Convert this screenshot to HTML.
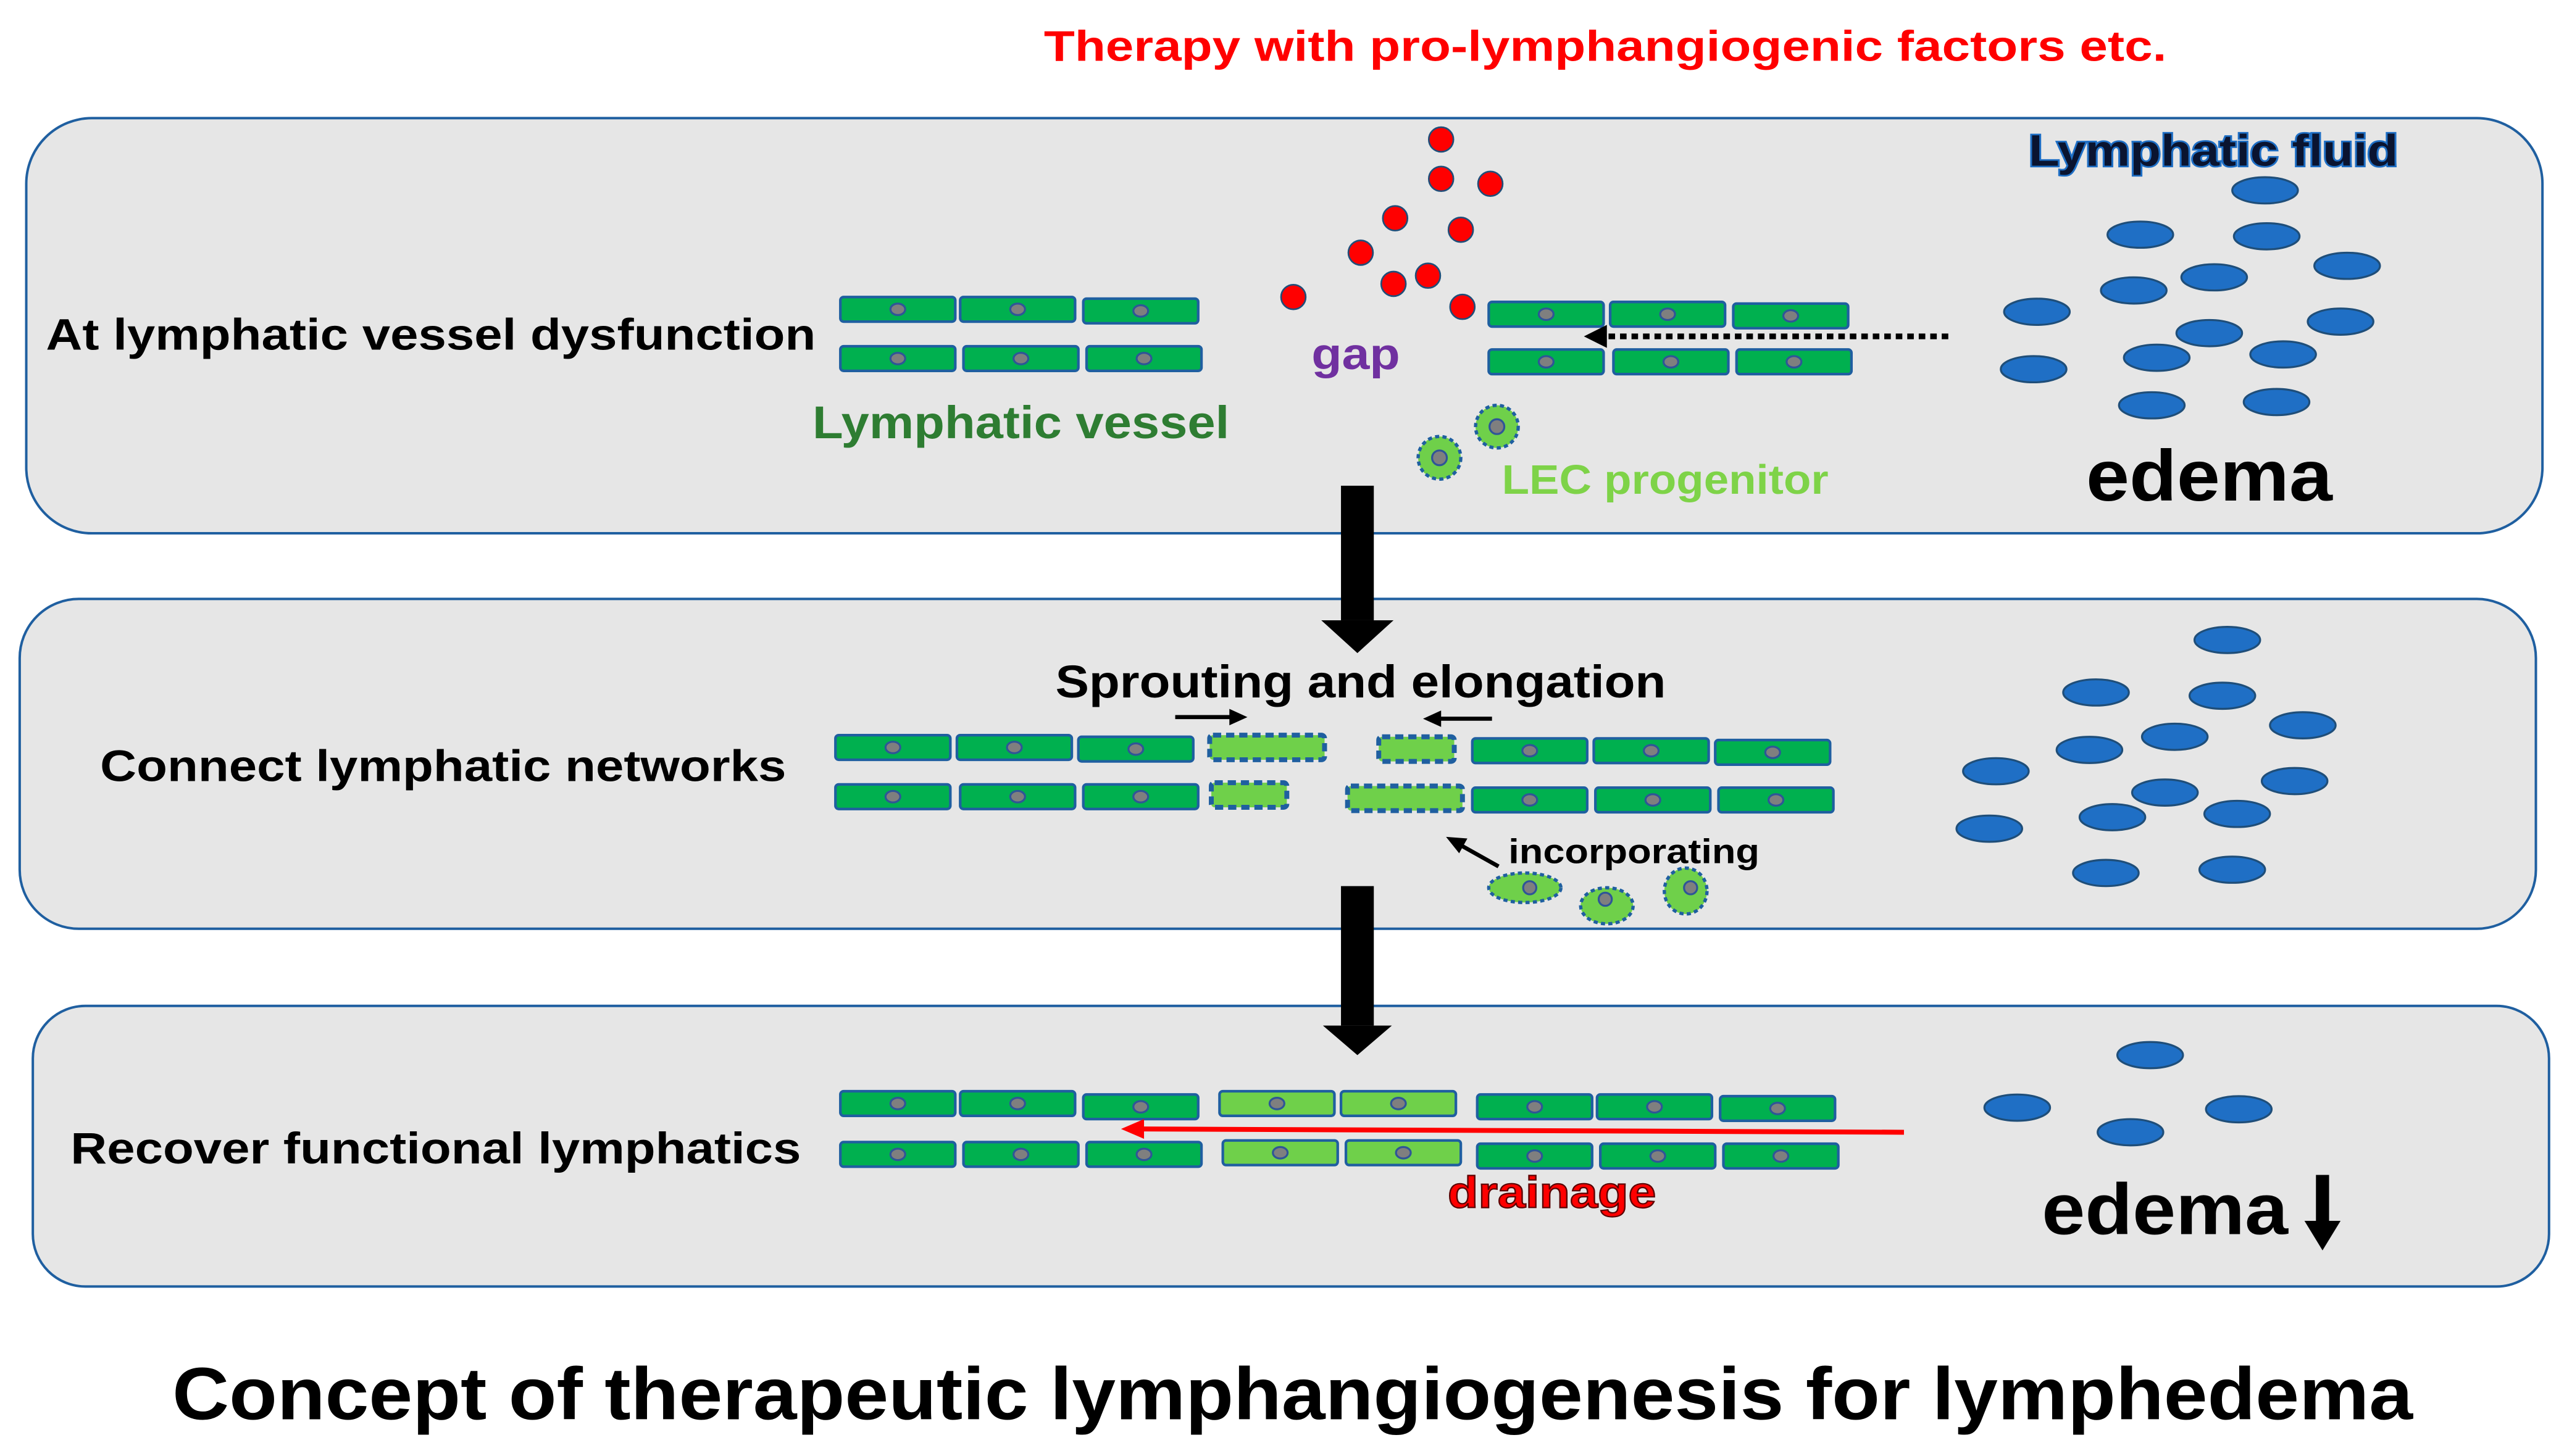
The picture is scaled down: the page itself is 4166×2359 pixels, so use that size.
<!DOCTYPE html>
<html><head><meta charset="utf-8"><style>html,body{margin:0;padding:0;background:#fff}svg{display:block}text{font-family:"Liberation Sans",Arial,sans-serif;font-weight:bold}</style></head><body>
<svg width="4166" height="2359" viewBox="0 0 1567 887.3" preserveAspectRatio="none" xmlns="http://www.w3.org/2000/svg">
<defs>
<g id="c"><rect x="0" y="0" width="70" height="15" rx="2" fill="#00b04f" stroke="#1f5fa0" stroke-width="1.6"/><ellipse cx="35" cy="7.5" rx="4.5" ry="3.5" fill="#7f7f7f" stroke="#2f5597" stroke-width="1.2"/></g>
<g id="l"><rect x="0" y="0" width="70" height="15" rx="2" fill="#6fd04a" stroke="#1f5fa0" stroke-width="1.6"/><ellipse cx="35" cy="7.5" rx="4.5" ry="3.5" fill="#7f7f7f" stroke="#2f5597" stroke-width="1.2"/></g>
<ellipse id="f" rx="20" ry="8" fill="#1f6fc5" stroke="#1f4e79" stroke-width="1.2"/>
<circle id="r" r="7.5" fill="#ff0000" stroke="#1f4e79" stroke-width="1"/>
</defs>
<rect width="1567" height="887.3" fill="#fff"/>
<rect x="16" y="72" width="1533" height="253" rx="40" fill="#e6e6e6" stroke="#1f5fa0" stroke-width="1.5"/>
<rect x="12" y="365" width="1533" height="201" rx="36" fill="#e6e6e6" stroke="#1f5fa0" stroke-width="1.5"/>
<rect x="20" y="613" width="1533" height="171" rx="32" fill="#e6e6e6" stroke="#1f5fa0" stroke-width="1.5"/>

<text x="636" y="37" font-size="26" fill="#ff0000" textLength="684" lengthAdjust="spacingAndGlyphs">Therapy with pro-lymphangiogenic factors etc.</text>

<text x="28" y="213" font-size="27" fill="#000" textLength="469" lengthAdjust="spacingAndGlyphs">At lymphatic vessel dysfunction</text>
<use href="#c" x="512" y="181"/><use href="#c" x="585" y="181"/><use href="#c" x="660" y="182"/>
<use href="#c" x="512" y="211"/><use href="#c" x="587" y="211"/><use href="#c" x="662" y="211"/>
<use href="#c" x="907" y="184"/><use href="#c" x="981" y="184"/><use href="#c" x="1056" y="185"/>
<use href="#c" x="907" y="213"/><use href="#c" x="983" y="213"/><use href="#c" x="1058" y="213"/>
<use href="#r" x="878" y="85"/><use href="#r" x="878" y="109"/><use href="#r" x="908" y="112"/><use href="#r" x="850" y="133"/><use href="#r" x="890" y="140"/><use href="#r" x="829" y="154"/><use href="#r" x="870" y="168"/><use href="#r" x="849" y="173"/><use href="#r" x="788" y="181"/><use href="#r" x="891" y="187"/>
<line x1="1187" y1="205" x2="978" y2="205" stroke="#000" stroke-width="3.5" stroke-dasharray="4,3"/>
<polygon points="965,205 979,198 979,212" fill="#000"/>
<text x="799" y="225" font-size="27" fill="#7030a0" textLength="54" lengthAdjust="spacingAndGlyphs">gap</text>
<text x="495" y="267" font-size="28" fill="#2e7d32" textLength="254" lengthAdjust="spacingAndGlyphs">Lymphatic vessel</text>
<circle cx="877" cy="279" r="13" fill="#6fd04a" stroke="#1f5fa0" stroke-width="2" stroke-dasharray="2.5,2"/><circle cx="877" cy="279" r="4.5" fill="#7f7f7f" stroke="#2f5597" stroke-width="1.2"/>
<circle cx="912" cy="260" r="13" fill="#6fd04a" stroke="#1f5fa0" stroke-width="2" stroke-dasharray="2.5,2"/><circle cx="912" cy="260" r="4.5" fill="#7f7f7f" stroke="#2f5597" stroke-width="1.2"/>
<text x="915" y="301" font-size="25" fill="#7ed348" textLength="199" lengthAdjust="spacingAndGlyphs">LEC progenitor</text>
<text x="1236" y="101" font-size="27" fill="#0a1430" stroke="#1f6fc5" stroke-width="2" paint-order="stroke" textLength="225" lengthAdjust="spacingAndGlyphs">Lymphatic fluid</text>
<use href="#f" x="1380" y="116"/><use href="#f" x="1304" y="143"/><use href="#f" x="1381" y="144"/><use href="#f" x="1430" y="162"/><use href="#f" x="1349" y="169"/><use href="#f" x="1241" y="190"/><use href="#f" x="1300" y="177"/><use href="#f" x="1426" y="196"/><use href="#f" x="1346" y="203"/><use href="#f" x="1239" y="225"/><use href="#f" x="1314" y="218"/><use href="#f" x="1391" y="216"/><use href="#f" x="1311" y="247"/><use href="#f" x="1387" y="245"/>
<text x="1271" y="305" font-size="44" fill="#000" textLength="150" lengthAdjust="spacingAndGlyphs">edema</text>

<rect x="817" y="296" width="20" height="82" fill="#000"/><polygon points="805,378 849,378 827,398" fill="#000"/>
<rect x="817" y="540" width="20" height="85" fill="#000"/><polygon points="806,625 848,625 827,643" fill="#000"/>

<text x="643" y="425" font-size="28" fill="#000" textLength="372" lengthAdjust="spacingAndGlyphs">Sprouting and elongation</text>
<text x="61" y="476" font-size="27" fill="#000" textLength="418" lengthAdjust="spacingAndGlyphs">Connect lymphatic networks</text>
<use href="#c" x="509" y="448"/><use href="#c" x="583" y="448"/><use href="#c" x="657" y="449"/>
<use href="#c" x="509" y="478"/><use href="#c" x="585" y="478"/><use href="#c" x="660" y="478"/>
<use href="#c" x="897" y="450"/><use href="#c" x="971" y="450"/><use href="#c" x="1045" y="451"/>
<use href="#c" x="897" y="480"/><use href="#c" x="972" y="480"/><use href="#c" x="1047" y="480"/>
<rect x="737" y="448" width="70" height="15" rx="2" fill="#6fd04a" stroke="#1f5fa0" stroke-width="3" stroke-dasharray="5,3"/>
<rect x="840" y="449" width="46" height="15" rx="2" fill="#6fd04a" stroke="#1f5fa0" stroke-width="3" stroke-dasharray="5,3"/>
<rect x="738" y="477" width="46" height="15" rx="2" fill="#6fd04a" stroke="#1f5fa0" stroke-width="3" stroke-dasharray="5,3"/>
<rect x="821" y="479" width="70" height="15" rx="2" fill="#6fd04a" stroke="#1f5fa0" stroke-width="3" stroke-dasharray="5,3"/>
<line x1="716" y1="437" x2="750" y2="437" stroke="#000" stroke-width="2.5"/><polygon points="760,437 749,432 749,442" fill="#000"/>
<line x1="909" y1="438" x2="876" y2="438" stroke="#000" stroke-width="2.5"/><polygon points="867,438 878,433 878,443" fill="#000"/>
<line x1="913" y1="528" x2="888" y2="514" stroke="#000" stroke-width="2.5"/><polygon points="881,510 894,511 889,520" fill="#000"/>
<text x="919" y="526" font-size="21" fill="#000" textLength="153" lengthAdjust="spacingAndGlyphs">incorporating</text>
<ellipse cx="929" cy="541" rx="22" ry="9" fill="#6fd04a" stroke="#1f5fa0" stroke-width="2" stroke-dasharray="2.5,2"/><circle cx="932" cy="541" r="4" fill="#7f7f7f" stroke="#2f5597" stroke-width="1.2"/>
<ellipse cx="979" cy="552" rx="16" ry="11" fill="#6fd04a" stroke="#1f5fa0" stroke-width="2" stroke-dasharray="2.5,2"/><circle cx="978" cy="548" r="4" fill="#7f7f7f" stroke="#2f5597" stroke-width="1.2"/>
<ellipse cx="1027" cy="543" rx="13" ry="14" fill="#6fd04a" stroke="#1f5fa0" stroke-width="2" stroke-dasharray="2.5,2"/><circle cx="1030" cy="541" r="4" fill="#7f7f7f" stroke="#2f5597" stroke-width="1.2"/>
<use href="#f" x="1357" y="390"/><use href="#f" x="1277" y="422"/><use href="#f" x="1354" y="424"/><use href="#f" x="1403" y="442"/><use href="#f" x="1325" y="449"/><use href="#f" x="1216" y="470"/><use href="#f" x="1273" y="457"/><use href="#f" x="1398" y="476"/><use href="#f" x="1319" y="483"/><use href="#f" x="1212" y="505"/><use href="#f" x="1287" y="498"/><use href="#f" x="1363" y="496"/><use href="#f" x="1283" y="532"/><use href="#f" x="1360" y="530"/>

<text x="43" y="709" font-size="27" fill="#000" textLength="445" lengthAdjust="spacingAndGlyphs">Recover functional lymphatics</text>
<use href="#c" x="512" y="665"/><use href="#c" x="585" y="665"/><use href="#c" x="660" y="667"/>
<use href="#l" x="743" y="665"/><use href="#l" x="817" y="665"/>
<use href="#c" x="900" y="667"/><use href="#c" x="973" y="667"/><use href="#c" x="1048" y="668"/>
<use href="#c" x="512" y="696"/><use href="#c" x="587" y="696"/><use href="#c" x="662" y="696"/>
<use href="#l" x="745" y="695"/><use href="#l" x="820" y="695"/>
<use href="#c" x="900" y="697"/><use href="#c" x="975" y="697"/><use href="#c" x="1050" y="697"/>
<line x1="1160" y1="690" x2="695" y2="688" stroke="#ff0000" stroke-width="3"/><polygon points="683,688 697,682 697,694" fill="#ff0000"/>
<text x="882" y="736" font-size="27" fill="#ff0000" stroke="#5a0000" stroke-width="0.8" textLength="127" lengthAdjust="spacingAndGlyphs">drainage</text>
<use href="#f" x="1310" y="643"/><use href="#f" x="1229" y="675"/><use href="#f" x="1364" y="676"/><use href="#f" x="1298" y="690"/>
<text x="1244" y="752" font-size="44" fill="#000" textLength="150" lengthAdjust="spacingAndGlyphs">edema</text>
<rect x="1411" y="716" width="8" height="28" fill="#000"/><polygon points="1404,744 1426,744 1415,762" fill="#000"/>

<text x="105" y="865" font-size="45" fill="#000" textLength="1365" lengthAdjust="spacingAndGlyphs">Concept of therapeutic lymphangiogenesis for lymphedema</text>
</svg>
</body></html>
